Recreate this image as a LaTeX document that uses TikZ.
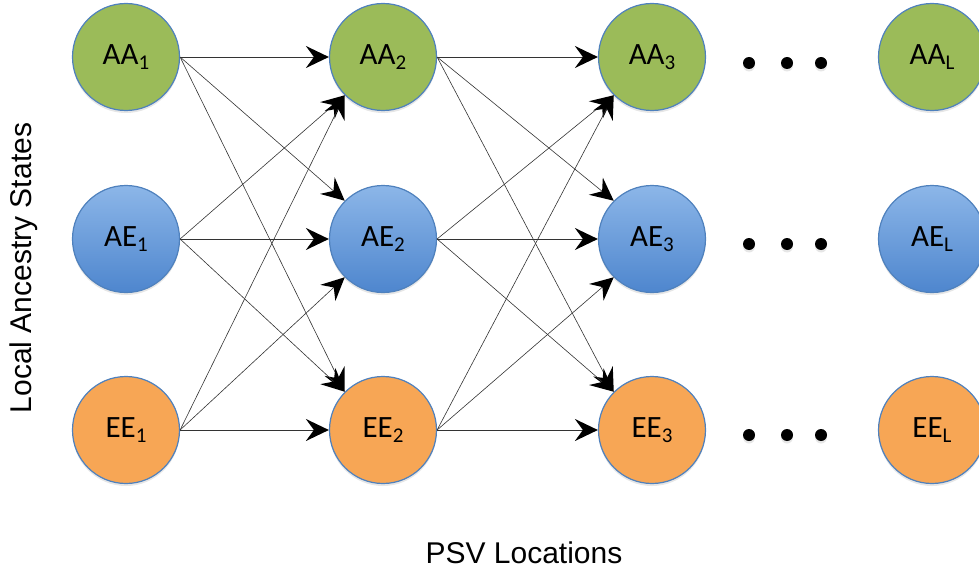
\documentclass[tikz,border=0pt]{standalone}
\usepackage{fontspec}
\setmainfont{Carlito}
\newfontfamily\arialfont{Liberation Sans}
\usetikzlibrary{arrows.meta,shadows}

\definecolor{verde}{RGB}{155,187,89}
\definecolor{azulclaro}{RGB}{140,182,232}
\definecolor{azul}{RGB}{78,134,206}
\definecolor{naranja}{RGB}{247,166,85}
\definecolor{borde}{RGB}{79,129,189}

\newcommand{\estado}[2]{#1\raisebox{-0.35ex}{\fontsize{21}{21}\selectfont #2}}

\begin{document}
\begin{tikzpicture}[x=1pt,y=1pt]
    \tikzset{estadoBase/.style = {shape=circle,draw=borde,line width=1.2pt,minimum size=107pt,inner sep=0pt,font=\fontsize{31}{31}\selectfont,drop shadow={opacity=0.2,shadow xshift=0pt,shadow yshift=-2.5pt}}}
    \tikzset{AA/.style = {estadoBase,fill=verde}}
    \tikzset{AE/.style = {estadoBase,top color=azulclaro,bottom color=azul}}
    \tikzset{EE/.style = {estadoBase,fill=naranja}}
    \tikzset{punto/.style = {shape=circle,fill=black,minimum size=12pt,inner sep=0pt,drop shadow={opacity=0.2,shadow xshift=0pt,shadow yshift=-2.5pt}}}

    \tikzset{flecha/.style = {-{Stealth[length=23pt,width=22pt,inset=8pt,black,line width=1.6pt]},draw=black!80,line width=0.6pt}}

    \useasboundingbox (0,0) rectangle (979,-575);

    \node[AA] (AA1) at (126,-57) {\estado{AA}{1}};
    \node[AE] (AE1) at (126,-239) {\estado{AE}{1}};
    \node[EE] (EE1) at (126,-430) {\estado{EE}{1}};

    \node[AA] (AA2) at (383,-57) {\estado{AA}{2}};
    \node[AE] (AE2) at (383,-239) {\estado{AE}{2}};
    \node[EE] (EE2) at (383,-430) {\estado{EE}{2}};

    \node[AA] (AA3) at (652,-57) {\estado{AA}{3}};
    \node[AE] (AE3) at (652,-239) {\estado{AE}{3}};
    \node[EE] (EE3) at (652,-430) {\estado{EE}{3}};

    \node[AA] (AAL) at (932,-57) {\estado{AA}{L}};
    \node[AE] (AEL) at (932,-239) {\estado{AE}{L}};
    \node[EE] (EEL) at (932,-430) {\estado{EE}{L}};

    \node[punto] (pAa) at (749,-63) {};
    \node[punto] (pAb) at (787,-63) {};
    \node[punto] (pAc) at (821,-63) {};
    \node[punto] (pBa) at (749,-244) {};
    \node[punto] (pBb) at (787,-244) {};
    \node[punto] (pBc) at (821,-244) {};
    \node[punto] (pCa) at (749,-435) {};
    \node[punto] (pCb) at (787,-435) {};
    \node[punto] (pCc) at (821,-435) {};

    % columna 1 -> columna 2
    \draw [flecha] (AA1.east) -- (AA2.west);
    \draw [flecha] (AA1.east) -- (AE2.north west);
    \draw [flecha] (AA1.east) -- (EE2.north west);
    \draw [flecha] (AE1.east) -- (AA2.south west);
    \draw [flecha] (AE1.east) -- (AE2.west);
    \draw [flecha] (AE1.east) -- (EE2.north west);
    \draw [flecha] (EE1.east) -- (AA2.south west);
    \draw [flecha] (EE1.east) -- (AE2.south west);
    \draw [flecha] (EE1.east) -- (EE2.west);

    % columna 2 -> columna 3
    \draw [flecha] (AA2.east) -- (AA3.west);
    \draw [flecha] (AA2.east) -- (AE3.north west);
    \draw [flecha] (AA2.east) -- (EE3.north west);
    \draw [flecha] (AE2.east) -- (AA3.south west);
    \draw [flecha] (AE2.east) -- (AE3.west);
    \draw [flecha] (AE2.east) -- (EE3.north west);
    \draw [flecha] (EE2.east) -- (AA3.south west);
    \draw [flecha] (EE2.east) -- (AE3.south west);
    \draw [flecha] (EE2.east) -- (EE3.west);

    \node[font=\arialfont\fontsize{30}{30}\selectfont,rotate=90] (ejeY) at (24,-268) {Local Ancestry States};
    \node[font=\arialfont\fontsize{30}{30}\selectfont] (ejeX) at (524,-553) {PSV Locations};
\end{tikzpicture}
\end{document}
